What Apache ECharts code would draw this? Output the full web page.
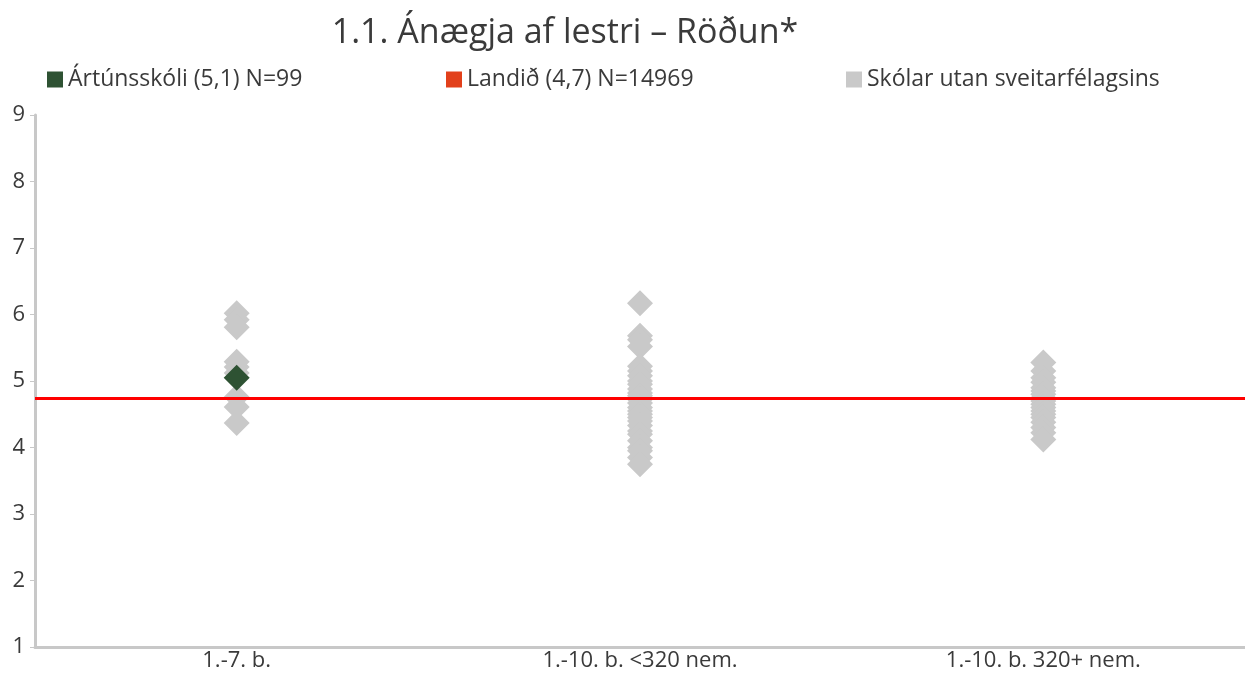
<!DOCTYPE html>
<html>
<head>
<meta charset="utf-8">
<script src="https://cdn.jsdelivr.net/npm/echarts@6/dist/echarts.min.js"></script>
<style>
  html, body { margin: 0; padding: 0; background: #fff; }
  #chart { width: 1245px; height: 674px; }
</style>
</head>
<body>
<div id="chart"></div>
<script>
const categories = ['1.-7. b.', '1.-10. b. <320 nem.', '1.-10. b. 320+ nem.']

// Skólar utan sveitarfélagsins, per category
const othersSmall = [6.02, 5.92, 5.81, 5.29, 5.21, 5.12, 4.76, 4.61, 4.37]
const othersMid = [6.17, 5.68, 5.62, 5.52, 5.22, 5.15, 5.08, 5.0, 4.95, 4.88, 4.82, 4.78, 4.72, 4.67,
  4.6, 4.55, 4.5, 4.45, 4.4, 4.33, 4.25, 4.2, 4.1, 4.0, 3.95, 3.85, 3.75]
const othersLarge = [5.28, 5.15, 5.05, 4.98, 4.9, 4.85, 4.8, 4.75, 4.7, 4.65, 4.6, 4.55, 4.5, 4.45,
  4.38, 4.3, 4.22, 4.12]

const schoolValue = 5.05   // Ártúnsskóli, 1.-7. b.
const countryValue = 4.74  // Landið

const names = ['Ártúnsskóli (5,1) N=99', 'Landið (4,7) N=14969', 'Skólar utan sveitarfélagsins']

const othersData = []
;[othersSmall, othersMid, othersLarge].forEach((arr, i) => {
  arr.forEach(v => othersData.push([categories[i], v]))
})

const font = '"Open Sans", sans-serif'
const legendBase = {
  top: 63,
  icon: 'rect',
  itemWidth: 16,
  itemHeight: 16,
  itemGap: 14,
  textStyle: { fontSize: 23, color: '#3a3a3a', fontFamily: font },
}

const option = {
  animation: false,
  title: {
    text: '1.1. Ánægja af lestri – Röðun*',
    left: 560,
    textAlign: 'center',
    top: 11,
    textStyle: { fontSize: 34, fontWeight: 'normal', color: '#3a3a3a', fontFamily: font },
  },
  legend: [
    { ...legendBase, left: 42, data: [names[0]] },
    { ...legendBase, left: 441, data: [names[1]] },
    { ...legendBase, left: 841, data: [names[2]] },
  ],
  grid: { left: 35, right: 0, top: 115, bottom: 27 },
  xAxis: {
    type: 'category',
    data: categories,
    axisLine: { lineStyle: { color: '#c8c8c8', width: 3 } },
    axisTick: { show: false },
    axisLabel: { fontSize: 22, color: '#3a3a3a', fontFamily: font, margin: 3 },
  },
  yAxis: {
    type: 'value',
    min: 1,
    max: 9,
    interval: 1,
    axisLine: { show: true, lineStyle: { color: '#c8c8c8', width: 3 } },
    axisTick: { show: true, length: 5, lineStyle: { color: '#c8c8c8' } },
    splitLine: { show: false },
    axisLabel: { fontSize: 22, color: '#3a3a3a', fontFamily: font, margin: 10 },
  },
  series: [
    {
      name: names[2],
      type: 'scatter',
      symbol: 'diamond',
      symbolSize: 26,
      itemStyle: { color: '#c9c9c9', opacity: 1 },
      data: othersData,
      z: 2,
    },
    {
      name: names[1],
      type: 'scatter',
      data: [],
      itemStyle: { color: '#e2401b', opacity: 1 },
      markLine: {
        silent: true,
        symbol: 'none',
        label: { show: false },
        lineStyle: { color: '#ff0000', width: 3, type: 'solid', opacity: 1 },
        data: [{ yAxis: countryValue }],
      },
      z: 3,
    },
    {
      name: names[0],
      type: 'scatter',
      symbol: 'diamond',
      symbolSize: 26,
      itemStyle: { color: '#2e5233', opacity: 1 },
      data: [[categories[0], schoolValue]],
      z: 4,
    },
  ],
}

echarts.init(document.getElementById('chart')).setOption(option)
</script>
</body>
</html>
